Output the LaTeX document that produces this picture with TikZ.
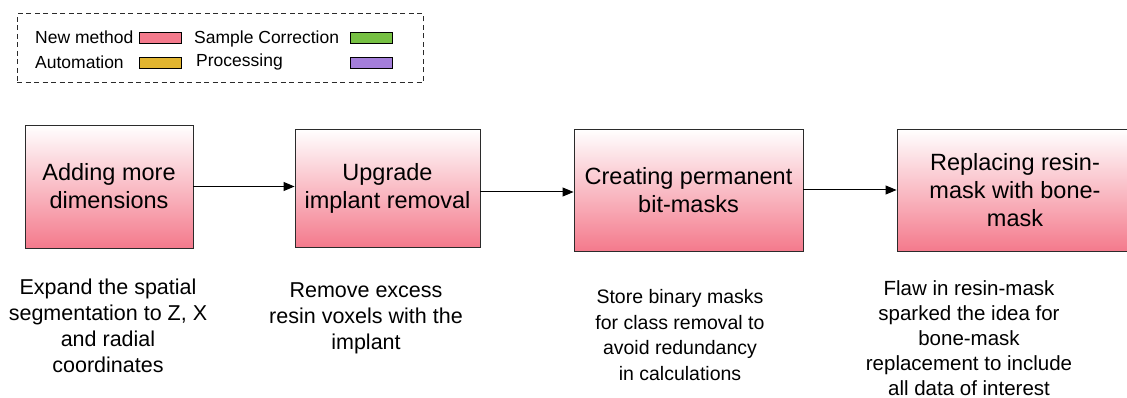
\documentclass[tikz,border=0pt]{standalone}
\usepackage{fontspec}
\setmainfont{Liberation Sans}
\usetikzlibrary{arrows.meta}
\definecolor{newpink}{HTML}{F47A8C}
\definecolor{autoyellow}{HTML}{E2B52F}
\definecolor{corrgreen}{HTML}{76C043}
\definecolor{procpurple}{HTML}{A47EDA}
\definecolor{edgegray}{HTML}{2B2B2B}
\tikzset{
  stepbox/.style={draw=edgegray, line width=0.9pt, top color=white, bottom color=newpink,
    inner sep=0pt, align=center, font=\fontsize{23.5}{28}\selectfont},
  swatch/.style={draw=black, line width=1pt, minimum width=42pt, minimum height=10.5pt, inner sep=0pt},
  legtext/.style={anchor=west, inner sep=0pt, font=\fontsize{17.5}{20}\selectfont},
  flow/.style={-{Triangle[length=11pt,width=9pt]}, line width=1pt, black},
  note/.style={align=center, inner sep=0pt}
}
\begin{document}
\begin{tikzpicture}[x=1pt, y=-1pt]
\useasboundingbox (0,0) rectangle (1127,398);

% legend frame and entries
\node[draw=edgegray, dashed, dash pattern=on 5pt off 3.5pt, line width=1pt,
      minimum width=406pt, minimum height=69pt, inner sep=0pt] (legend) at (220,48.5) {};
\node[legtext] (lnew) at (35,37) {New method};
\node[swatch, fill=newpink] (snew) at (160.5,38) {};
\node[legtext] (lcorr) at (194,38.5) {Sample Correction};
\node[swatch, fill=corrgreen] (scorr) at (371.5,38) {};
\node[legtext] (lauto) at (35,62) {Automation};
\node[swatch, fill=autoyellow] (sauto) at (160.5,63) {};
\node[legtext] (lproc) at (196,62) {Processing};
\node[swatch, fill=procpurple] (sproc) at (371.5,63) {};

% process steps
\node[stepbox, minimum width=168pt, minimum height=123pt] (s1) at (109,186.5)
  {Adding more\\dimensions};
\node[stepbox, minimum width=185pt, minimum height=118pt] (s2) at (387.5,188)
  {Upgrade\\implant removal};
\node[stepbox, minimum width=229pt, minimum height=122pt] (s3) at (688.5,190)
  {Creating permanent\\bit-masks};
\node[stepbox, minimum width=236pt, minimum height=122pt] (s4) at (1015,190)
  {Replacing resin-\\mask with bone-\\mask};

\draw[flow] (s1.east) -- (s1.east -| s2.west);
\draw[flow] ([yshift=-2pt]s2.east |- s3.west) -- ([yshift=-2pt]s3.west);
\draw[flow] (s3.east) -- (s4.west);

% step descriptions
\node[note, font=\fontsize{21.5}{26}\selectfont] (d1) at (108,325.5)
  {Expand the spatial\\segmentation to Z, X\\and radial\\coordinates};
\node[note, font=\fontsize{21.5}{26}\selectfont] (d2) at (366,318)
  {Remove excess\\resin voxels with the\\implant};
\node[note, font=\fontsize{19.5}{25.5}\selectfont] (d3) at (680,335)
  {Store binary masks\\for class removal to\\avoid redundancy\\in calculations};
\node[note, font=\fontsize{20.5}{25}\selectfont] (d4) at (969,338)
  {Flaw in resin-mask\\sparked the idea for\\bone-mask\\replacement to include\\all data of interest};
\end{tikzpicture}
\end{document}
